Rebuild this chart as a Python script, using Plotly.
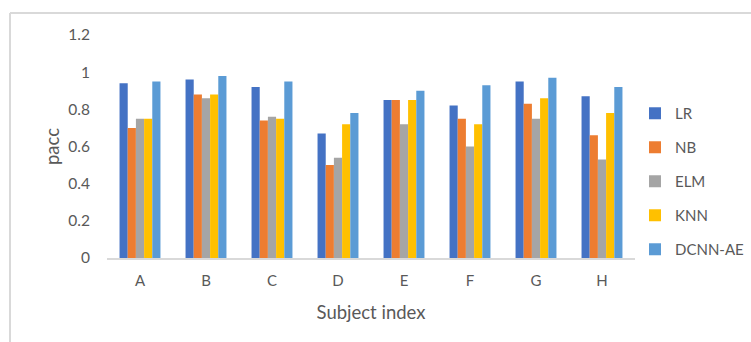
import plotly.graph_objects as go

subjects = ["A", "B", "C", "D", "E", "F", "G", "H"]
lr = [0.94, 0.96, 0.92, 0.67, 0.85, 0.82, 0.95, 0.87]
nb = [0.70, 0.88, 0.74, 0.50, 0.85, 0.75, 0.83, 0.66]
elm = [0.75, 0.86, 0.76, 0.54, 0.72, 0.60, 0.75, 0.53]
knn = [0.75, 0.88, 0.75, 0.72, 0.85, 0.72, 0.86, 0.78]
dcnn_ae = [0.95, 0.98, 0.95, 0.78, 0.90, 0.93, 0.97, 0.92]
y_ticks = [0, 0.2, 0.4, 0.6, 0.8, 1, 1.2]
y_tick_text = ["0", "0.2", "0.4", "0.6", "0.8", "1", "1.2"]

series = [
    ("LR", lr, "#4472C4"),
    ("NB", nb, "#ED7D31"),
    ("ELM", elm, "#A5A5A5"),
    ("KNN", knn, "#FFC000"),
    ("DCNN-AE", dcnn_ae, "#5B9BD5"),
]

FONT = "Lato, Calibri, sans-serif"
GREY = "#595959"

fig = go.Figure()
for i, (name, vals, color) in enumerate(series):
    fig.add_trace(go.Bar(
        x=subjects, y=vals, name=name, legendgroup=str(i),
        marker=dict(color=color, line=dict(width=0)),
    ))

fig.update_layout(
    width=751, height=342,
    margin=dict(l=107, r=116, t=35, b=84, autoexpand=False),
    paper_bgcolor="white", plot_bgcolor="white",
    barmode="group", bargap=0.38, bargroupgap=0,
    font=dict(family=FONT, color=GREY, size=15),
    showlegend=True,
    legend=dict(
        x=1.0, xanchor="left", y=0.343, yanchor="middle",
        font=dict(family=FONT, size=15, color=GREY),
        tracegroupgap=11.5, itemwidth=30,
        bgcolor="rgba(0,0,0,0)",
    ),
    xaxis=dict(
        showline=True, linecolor="#D9D9D9", linewidth=2,
        showgrid=False, ticks="", tickfont=dict(size=15, color=GREY),
        ticklabelstandoff=8, automargin=False,
        title=dict(text="Subject index", font=dict(size=18.5, color=GREY), standoff=18),
    ),
    yaxis=dict(
        range=[0, 1.2], tickvals=y_ticks, ticktext=y_tick_text,
        showgrid=False, zeroline=False, showline=False, ticks="",
        tickfont=dict(size=15.5, color=GREY), ticklabelstandoff=16,
        automargin=False,
        title=dict(text="pacc", font=dict(size=18.5, color=GREY), standoff=3),
    ),
    shapes=[
        dict(type="line", xref="paper", yref="paper",
             x0=-97 / 528, x1=-97 / 528, y0=1 + 22 / 223, y1=-84 / 223,
             line=dict(color="#D9D9D9", width=2)),
        dict(type="line", xref="paper", yref="paper",
             x0=-97 / 528, x1=1 + 116 / 528, y0=1 + 22 / 223, y1=1 + 22 / 223,
             line=dict(color="#D9D9D9", width=2)),
    ],
)

fig.write_html("out.html")
